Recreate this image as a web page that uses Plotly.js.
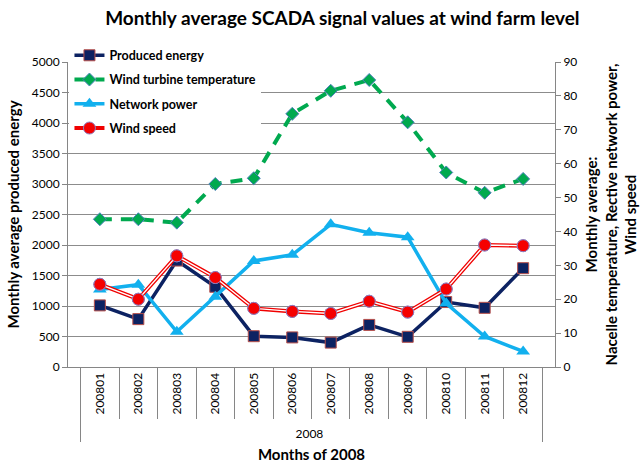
<!DOCTYPE html>
<html>
<head>
<meta charset="utf-8">
<script src="https://cdn.plot.ly/plotly-3.0.1.min.js"></script>
<style>html,body{margin:0;padding:0;background:#fff;}#chart{width:640px;height:465px;}</style>
</head>
<body>
<div id="chart"></div>
<script>
const yearLabel = '2008';
const months = ['200801','200802','200803','200804','200805','200806','200807','200808','200809','200810','200811','200812'];
const producedEnergy = [1010, 785, 1745, 1315, 505, 485, 400, 690, 495, 1065, 970, 1620];
const turbineTemp = [43.6, 43.6, 42.6, 54.0, 55.7, 74.7, 81.5, 84.7, 72.2, 57.4, 51.4, 55.5];
const networkPower = [22.9, 24.3, 10.4, 20.7, 31.3, 33.1, 42.1, 39.6, 38.3, 18.8, 9.0, 4.6];
const windSpeed = [24.4, 20.0, 32.8, 26.4, 17.3, 16.4, 15.8, 19.4, 16.2, 23.0, 36.0, 35.8];

const xCats = [months.map(() => yearLabel), months];
const FONT = 'Lato, "Open Sans", sans-serif';

const traces = [
  {
    x: xCats, y: producedEnergy, name: '<b>Produced energy</b>', type: 'scatter', mode: 'lines+markers',
    yaxis: 'y', legendgroup: 'a',
    line: {color: '#0C2262', width: 3.5},
    marker: {symbol: 'square', size: 11, color: '#0C2262', line: {color: '#B8504B', width: 1}}
  },
  {
    x: xCats, y: turbineTemp, name: '<b>Wind turbine temperature</b>', type: 'scatter', mode: 'lines+markers',
    yaxis: 'y2', legendgroup: 'b',
    line: {color: '#00A94F', width: 4, dash: '12px,9px'},
    marker: {symbol: 'diamond', size: 10, color: '#00A94F', line: {color: '#4F81BD', width: 1}}
  },
  {
    x: xCats, y: networkPower, name: '<b>Network power</b>', type: 'scatter', mode: 'lines+markers',
    yaxis: 'y2', legendgroup: 'c',
    line: {color: '#12B0EE', width: 3.5},
    marker: {symbol: 'triangle-up', size: 12, color: '#12B0EE'}
  },
  {
    x: xCats, y: windSpeed, name: '<b>Wind speed</b>', type: 'scatter', mode: 'lines+markers',
    yaxis: 'y2', legendgroup: 'd',
    line: {color: '#F00000', width: 4},
    marker: {symbol: 'circle', size: 12, color: '#F50000', line: {color: '#8E7FC0', width: 1}}
  },
  {
    x: xCats, y: windSpeed, type: 'scatter', mode: 'lines', showlegend: false, hoverinfo: 'skip',
    yaxis: 'y2', legendgroup: 'd',
    line: {color: '#FFFFFF', width: 1.4}
  },
  {
    x: xCats, y: windSpeed, type: 'scatter', mode: 'markers', showlegend: false, hoverinfo: 'skip',
    yaxis: 'y2', legendgroup: 'd',
    marker: {symbol: 'circle', size: 12, color: '#F50000', line: {color: '#8E7FC0', width: 1}}
  }
];

const layout = {
  width: 640, height: 465,
  margin: {l: 68, r: 85, t: 62, b: 98},
  paper_bgcolor: '#FFFFFF', plot_bgcolor: '#FFFFFF',
  font: {family: FONT, size: 12, color: '#000'},
  showlegend: true,
  title: {
    text: '<b>Monthly average SCADA signal values at wind farm level</b>',
    font: {family: FONT, size: 19, color: '#000'},
    x: 0.535, xanchor: 'center', y: 0.96, yanchor: 'middle', xref: 'container', yref: 'container'
  },
  legend: {
    x: 0.003, y: 1.07, xanchor: 'left', yanchor: 'top',
    bgcolor: '#FFFFFF', borderwidth: 0,
    font: {family: FONT, size: 12.5, color: '#000'},
    tracegroupgap: 5, traceorder: 'grouped', itemwidth: 30
  },
  xaxis: {
    type: 'multicategory',
    showgrid: false,
    showline: true, linecolor: '#868686', linewidth: 1,
    ticks: 'outside', ticklen: 51, tickcolor: '#868686', tickwidth: 1,
    tickangle: -90,
    tickfont: {family: FONT, size: 12, color: '#000'},
    showdividers: true, dividercolor: '#868686', dividerwidth: 1,
    title: {text: '<b>Months of 2008</b>', font: {family: FONT, size: 15, color: '#000'}, standoff: 9},
    automargin: false
  },
  yaxis: {
    range: [0, 5000], dtick: 500,
    showgrid: true, gridcolor: '#8C8C8C', gridwidth: 1,
    showline: true, linecolor: '#868686', linewidth: 1,
    ticks: 'outside', ticklen: 5, tickcolor: '#868686',
    tickfont: {family: FONT, size: 12, color: '#000'},
    zeroline: false,
    title: {text: '<b>Monthly average produced energy</b>', font: {family: FONT, size: 15, color: '#000'}, standoff: 8},
    automargin: false
  },
  yaxis2: {
    overlaying: 'y', side: 'right',
    range: [0, 90], dtick: 10,
    showgrid: false,
    showline: true, linecolor: '#868686', linewidth: 1,
    ticks: 'outside', ticklen: 5, tickcolor: '#868686',
    tickfont: {family: FONT, size: 12, color: '#000'},
    zeroline: false,
    title: {text: '<b>Monthly average:<br>Nacelle temperature, Rective network power,<br>Wind speed</b>', font: {family: FONT, size: 15, color: '#000'}, standoff: 10},
    automargin: false
  }
};

Plotly.newPlot('chart', traces, layout, {staticPlot: true, displayModeBar: false});
</script>
</body>
</html>
